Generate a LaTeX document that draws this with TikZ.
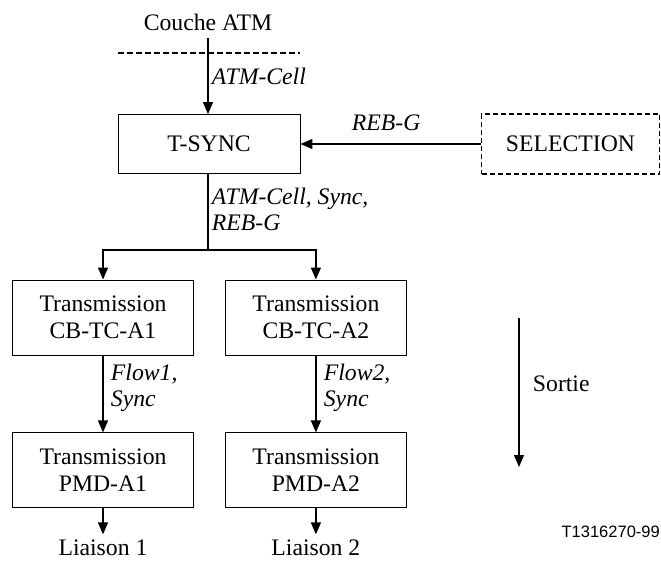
\documentclass[tikz,border=0pt]{standalone}
\usepackage{fontspec}
\setmainfont{Liberation Serif}
\setsansfont{Liberation Sans}
\usetikzlibrary{arrows.meta,positioning,calc}

\begin{document}
\begin{tikzpicture}[
  x=1pt, y=-1pt,
  font=\fontsize{23.7}{27}\selectfont,
  box/.style={draw, line width=0.9pt, minimum width=182pt, minimum height=59pt,
              align=center, inner sep=0pt},
  twobox/.style={box, minimum width=181pt, minimum height=75pt},
  selbox/.style={draw, dash pattern=on 5pt off 3pt, line width=1.2pt,
                 minimum width=178pt, minimum height=60pt},
  lab/.style={font=\fontsize{23.7}{26}\selectfont\itshape, align=left},
  arr/.style={-{Triangle[width=10pt,length=12pt]}, line width=1.3pt},
  wire/.style={line width=1.3pt}
]
\useasboundingbox (0,0) rectangle (661,561);

% ── ATM layer ────────────────────────────────────────────────────────────────
\node[anchor=base, inner ysep=7pt] (couche) at (208,31) {Couche ATM};
\coordinate (layL) at (118,53);
\coordinate (layR) at (300,53);
\draw[wire, dash pattern=on 6pt off 3pt] (layL) -- (layR);

% ── T-SYNC and SELECTION ─────────────────────────────────────────────────────
\node[box]    (tsync) at (209,144)   {T-SYNC};
\node[selbox] (sel)   at (570.5,144) {SELECTION};

% ── Transmission blocks ──────────────────────────────────────────────────────
\node[twobox] (cb1) at (103,317.5) {Transmission\\CB-TC-A1};
\node[twobox, right=31pt of cb1]  (cb2)  {Transmission\\CB-TC-A2};
\node[twobox, below=77pt of cb1]  (pmd1) {Transmission\\PMD-A1};
\node[twobox, below=77pt of cb2]  (pmd2) {Transmission\\PMD-A2};

% ── Links ────────────────────────────────────────────────────────────────────
\node[below=26pt of pmd1, inner sep=5pt] (lia1) {Liaison 1};
\node[below=26pt of pmd2, inner sep=5pt] (lia2) {Liaison 2};

% ── Branch coordinate ────────────────────────────────────────────────────────
\coordinate (split) at (208,250);

% ── Output direction and figure number ───────────────────────────────────────
\coordinate (outA) at (519,318);
\coordinate (outB) at (519,467);
\node[font=\sffamily\fontsize{16.5}{18}\selectfont, anchor=east, inner sep=1pt]
  (fignum) at (661,532) {T1316270-99};

% ── Arrows: main column ──────────────────────────────────────────────────────
\draw[arr] (couche.south) -- node[lab, right] {ATM-Cell} (tsync.north -| couche.south);
\draw[arr] (sel.west) -- node[lab, above=9pt, pos=0.525] {REB-G} (tsync.east);
\draw[wire] (tsync.south -| split) -- node[lab, right, pos=0.47] {ATM-Cell, Sync,\\REB-G} (split);

% ── Arrows: branch to the two blocks ─────────────────────────────────────────
\draw[arr] (split) -| (cb1.north);
\draw[arr] (split) -| (cb2.north);

% ── Arrows: lower rows ───────────────────────────────────────────────────────
\draw[arr] (cb1) -- node[lab, right=4pt, pos=0.42] {Flow1,\\Sync} (pmd1);
\draw[arr] (cb2) -- node[lab, right=4pt, pos=0.42] {Flow2,\\Sync} (pmd2);
\draw[arr] (pmd1) -- (lia1);
\draw[arr] (pmd2) -- (lia2);
\draw[arr] (outA) -- node[right=10pt, pos=0.44] {Sortie} (outB);
\end{tikzpicture}
\end{document}
